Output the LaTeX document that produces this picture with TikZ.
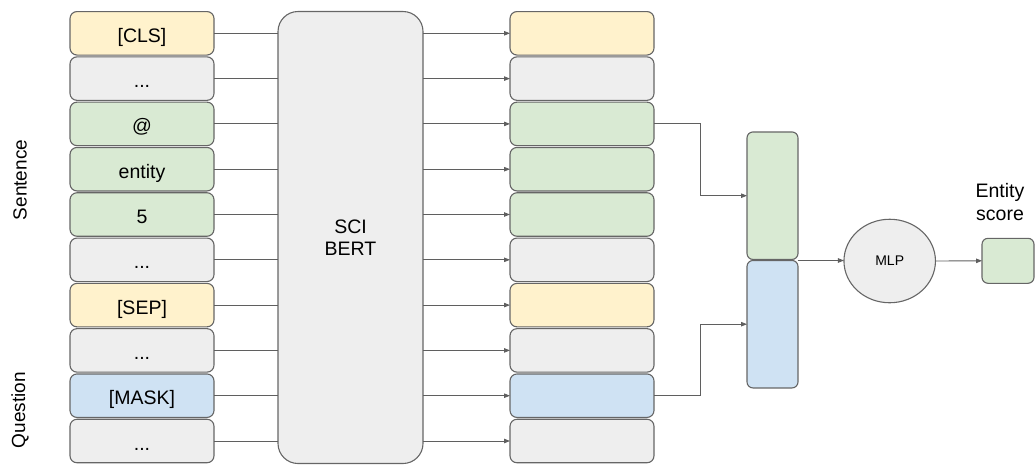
\documentclass[tikz,border=0pt]{standalone}
\usepackage{fontspec}
\setmainfont{Liberation Sans}
\usetikzlibrary{arrows.meta,shapes.geometric,calc}
\definecolor{cyel}{HTML}{FFF2CC}
\definecolor{cgry}{HTML}{EEEEEE}
\definecolor{cgrn}{HTML}{D9EAD3}
\definecolor{cblu}{HTML}{CFE2F3}
\definecolor{cbrd}{HTML}{666666}
\definecolor{cln}{HTML}{5F5F5F}
\tikzset{
  tok/.style={draw=cbrd, line width=1.1pt, rounded corners=7pt, minimum width=144pt, minimum height=43.5pt, inner sep=0pt, outer sep=0pt, text height=18pt, text depth=0pt, font=\fontsize{19.5}{22}\selectfont},
  vec/.style={draw=cbrd, line width=1.1pt, rounded corners=6pt, inner sep=0pt, outer sep=0pt},
  lnk/.style={draw=cln, line width=0.9pt},
  arr/.style={lnk, -{Triangle[length=6pt,width=4.5pt]}},
  lbl/.style={font=\fontsize{19}{22}\selectfont, inner sep=0pt}
}
\begin{document}
\begin{tikzpicture}[x=1pt,y=-1pt]
\useasboundingbox (0,0) rectangle (1035,464);
% BERT
\node[draw=cbrd, fill=cgry, line width=1.1pt, rounded corners=20pt, minimum width=145pt, minimum height=452pt, inner sep=0pt, outer sep=0pt, align=center, font=\fontsize{19.5}{22}\selectfont] (bert) at (350.5,237.5) {SCI\\BERT};
% tokens and outputs
\foreach \i/\c/\t in {0/cyel/{[CLS]},1/cgry/{...},2/cgrn/{@},3/cgrn/{entity},4/cgrn/{5},5/cgry/{...},6/cyel/{[SEP]},7/cgry/{...},8/cblu/{[MASK]},9/cgry/{...}}{
  \node[tok, fill=\c] (L\i) at (142, 33.3+45.3*\i) {\t};
  \node[tok, fill=\c] (R\i) at (582, 33.3+45.3*\i) {};
  \draw[lnk] (L\i.east) -- (L\i.east -| bert.west);
  \draw[arr] (L\i.east -| bert.east) -- (R\i.west);
}
% concat vector
\node[vec, fill=cgrn, minimum width=51pt, minimum height=127.5pt] (G) at (772.5,195.7) {};
\node[vec, fill=cblu, minimum width=51pt, minimum height=127.5pt] (B) at (772.5,324.2) {};
\coordinate (mx) at (700.7,0);
\draw[arr] (R2.east) -- (R2.east -| mx) |- (G.west);
\draw[arr] (R8.east) -- (R8.east -| mx) |- (B.west);
% MLP
\node[ellipse, draw=cbrd, fill=cgry, line width=1.1pt, minimum width=91.5pt, minimum height=83.5pt, inner sep=0pt, outer sep=0pt, font=\fontsize{14}{16}\selectfont] (mlp) at (889.7,261) {MLP};
\coordinate (j) at (797.7,260.5);
\draw[arr] (j) -- (j -| mlp.west);
% output
\node[vec, fill=cgrn, minimum width=52pt, minimum height=45pt] (out) at (1008,260.8) {};
\draw[arr] (mlp.east) -- (out.west);
\node[lbl, align=center, font=\fontsize{19.5}{23}\selectfont] (es) at (1000,202) {Entity\\score};
% side labels
\node[lbl, rotate=90] (sl) at (20,180) {Sentence};
\node[lbl, rotate=90] (ql) at (20,410) {Question};
\end{tikzpicture}
\end{document}
